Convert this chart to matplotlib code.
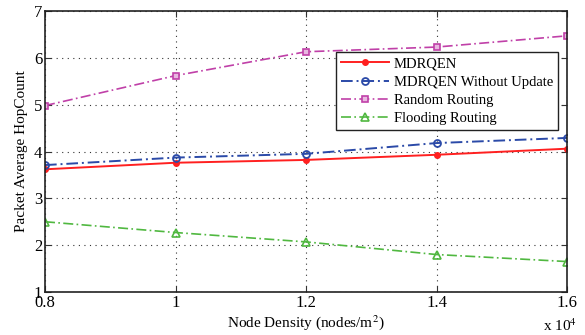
import matplotlib
matplotlib.use("Agg")
import matplotlib.pyplot as plt

x = [0.8, 1.0, 1.2, 1.4, 1.6]
mdrqen = [3.62, 3.76, 3.82, 3.93, 4.06]
mdrqen_noupd = [3.71, 3.87, 3.95, 4.18, 4.29]
random_routing = [4.98, 5.62, 6.13, 6.23, 6.47]
flooding = [2.50, 2.27, 2.07, 1.80, 1.65]
xticks = [0.8, 1.0, 1.2, 1.4, 1.6]
xticklabels = ["0.8", "1", "1.2", "1.4", "1.6"]
yticks = [1, 2, 3, 4, 5, 6, 7]

plt.rcParams['font.family'] = ['Liberation Serif', 'DejaVu Serif']
plt.rcParams['mathtext.fontset'] = 'stix'

fig = plt.figure(figsize=(5.85, 3.35), dpi=100)
ax = fig.add_axes([45/585, 1 - 292/335, 522/585, 281/335])

ax.plot(x, mdrqen, '-', color='#ff2020', lw=1.4, marker='o', ms=4, mfc='#ff2020', mec='#ff2020', label='MDRQEN')
ax.plot(x, mdrqen_noupd, '-.', color='#2b4aa8', lw=1.4, dashes=(6, 2, 1, 2), marker='o', ms=5, mfc='none', mec='#2b4aa8', mew=1.3, label='MDRQEN Without Update')
ax.plot(x, random_routing, '-.', color='#c040a8', lw=1.2, dashes=(6, 2, 1, 2), marker='s', ms=5, mfc='#e8b8e0', mec='#c040a8', mew=1.2, label='Random Routing')
ax.plot(x, flooding, '-.', color='#50b840', lw=1.2, dashes=(6, 2, 1, 2), marker='^', ms=6, mfc='none', mec='#50b840', mew=1.2, label='Flooding Routing')

ax.set_xlim(0.8, 1.6)
ax.set_ylim(1, 7)
ax.set_xticks(xticks)
ax.set_xticklabels(xticklabels)
ax.set_yticks(yticks)
ax.tick_params(direction='in', labelsize=12, length=4, top=True, right=True, color='#333333', pad=2)
ax.grid(True, linestyle=(0, (1, 4)), color='#333333', lw=0.8)
for s in ax.spines.values():
    s.set_linewidth(1.2)
    s.set_color('#222222')

ax.set_xlabel('Node Density (nodes/m$^2$)', fontsize=11, labelpad=2)
ax.set_ylabel('Packet Average HopCount', fontsize=11, labelpad=4)
fig.text(560/585, 1 - 326/335, r'x 10$^4$', ha='center', va='center', fontsize=11)

leg = ax.legend(loc='upper right', bbox_to_anchor=(0.983, 0.854), fontsize=10.5,
                frameon=True, fancybox=False, edgecolor='#222222', framealpha=1,
                handlelength=3.3, borderpad=0.35, labelspacing=0.35, handletextpad=0.3,
                borderaxespad=0)
leg.get_frame().set_linewidth(1.0)

fig.savefig('out.png', dpi=100)
